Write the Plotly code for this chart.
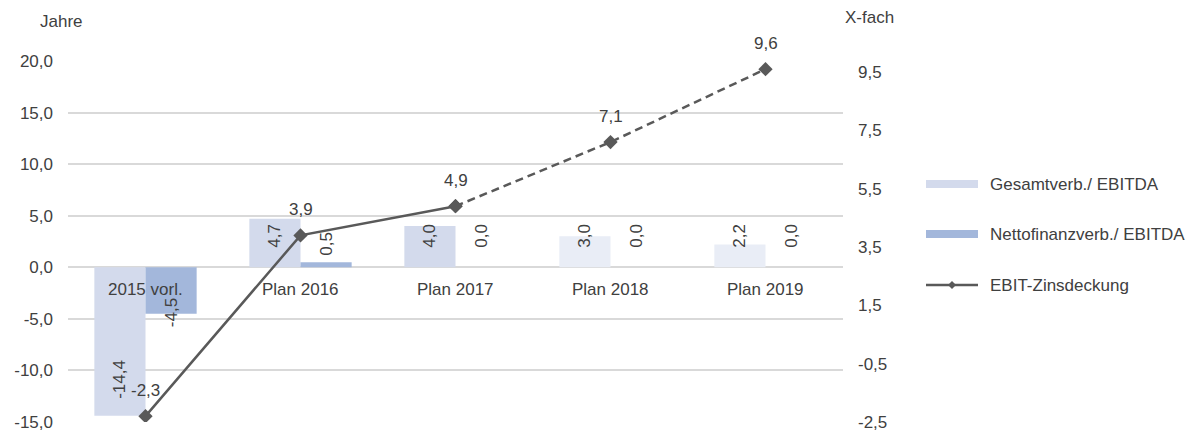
import plotly.graph_objects as go

categories = ["2015 vorl.", "Plan 2016", "Plan 2017", "Plan 2018", "Plan 2019"]
gesamt = [-14.4, 4.7, 4.0, 3.0, 2.2]
netto = [-4.5, 0.5, 0.0, 0.0, 0.0]
ebit = [-2.3, 3.9, 4.9, 7.1, 9.6]
left_ticks = [-15, -10, -5, 0, 5, 10, 15, 20]
right_ticks = [-2.5, -0.5, 1.5, 3.5, 5.5, 7.5, 9.5]

FONT = "Liberation Sans, Arial, sans-serif"
TXT = "#404040"
C_GES = ["#D3DAEC", "#D3DAEC", "#D3DAEC", "#E9EDF6", "#E9EDF6"]
C_NET = "#A3B7DB"
C_LINE = "#595959"

def de(v):
    return f"{v:.1f}".replace(".", ",")

fig = go.Figure()
fig.add_trace(go.Bar(x=categories, y=gesamt, marker=dict(color=C_GES, line=dict(width=0)),
                     name="Gesamtverb./ EBITDA", showlegend=False))
fig.add_trace(go.Bar(x=categories, y=netto, marker=dict(color=C_NET, line=dict(width=0)),
                     name="Nettofinanzverb./ EBITDA", showlegend=False))
fig.add_trace(go.Scatter(x=categories[:3], y=ebit[:3], yaxis="y2", mode="lines+markers",
                         line=dict(color=C_LINE, width=2.5),
                         marker=dict(symbol="diamond", size=11, color=C_LINE),
                         showlegend=False))
fig.add_trace(go.Scatter(x=categories[2:], y=ebit[2:], yaxis="y2", mode="lines+markers",
                         line=dict(color=C_LINE, width=2.5, dash="8px,5px"),
                         marker=dict(symbol="diamond", size=11, color=C_LINE),
                         showlegend=False))

ann = []
# bar value labels
for i, (c, v) in enumerate(zip(categories, gesamt)):
    if v >= 0:
        ann.append(dict(x=c, y=0, xshift=-26, yshift=17, yanchor="bottom", text=de(v)))
    else:
        ann.append(dict(x=c, y=v, xshift=-26, yshift=15, yanchor="bottom", text=de(v)))
for i, (c, v) in enumerate(zip(categories, netto)):
    if v > 0:
        ann.append(dict(x=c, y=v, xshift=26, yshift=4, yanchor="bottom", text=de(v)))
    elif v == 0:
        ann.append(dict(x=c, y=0, xshift=26, yshift=17, yanchor="bottom", text=de(v)))
    else:
        ann.append(dict(x=c, y=v, xshift=26, yshift=1, yanchor="middle", text=de(v)))
for a in ann:
    a.update(textangle=-90, showarrow=False, font=dict(family=FONT, size=17, color=TXT))
# line labels
for c, v in zip(categories, ebit):
    ann.append(dict(x=c, y=v, yref="y2", yshift=14, yanchor="bottom", text=de(v),
                    showarrow=False, font=dict(family=FONT, size=17, color=TXT)))
# category labels at zero line
for c in categories:
    ann.append(dict(x=c, y=0, yshift=-11, yanchor="top", text=c, showarrow=False,
                    font=dict(family=FONT, size=17, color=TXT)))

# pixel helpers for the plot area (68..843 x 61..422)
def px_x(p):
    return (p - 68) / (843 - 68)
def px_y(p):
    return (422 - p) / (422 - 61)

# axis titles
ann.append(dict(xref="paper", yref="paper", x=px_x(38), y=px_y(22), xanchor="left", yanchor="middle",
                text="Jahre", showarrow=False, font=dict(family=FONT, size=17, color=TXT)))
ann.append(dict(xref="paper", yref="paper", x=px_x(843), y=px_y(17), xanchor="left", yanchor="middle",
                text="X-fach", showarrow=False, font=dict(family=FONT, size=17, color=TXT)))

# manual legend
legend_items = ["Gesamtverb./ EBITDA", "Nettofinanzverb./ EBITDA", "EBIT-Zinsdeckung"]
shapes = []
lx0, lx1, tx = 926, 978, 988
ly = [184, 234, 285]
shapes.append(dict(type="rect", xref="paper", yref="paper", x0=px_x(lx0), x1=px_x(lx1),
                   y0=px_y(ly[0] + 4), y1=px_y(ly[0] - 4), fillcolor=C_GES[0], line=dict(width=0)))
shapes.append(dict(type="rect", xref="paper", yref="paper", x0=px_x(lx0), x1=px_x(lx1),
                   y0=px_y(ly[1] + 4), y1=px_y(ly[1] - 4), fillcolor=C_NET, line=dict(width=0)))
shapes.append(dict(type="line", xref="paper", yref="paper", x0=px_x(lx0), x1=px_x(lx1),
                   y0=px_y(ly[2]), y1=px_y(ly[2]), line=dict(color=C_LINE, width=2.5)))
shapes.append(dict(type="path", xref="paper", yref="paper",
                   path="M {a},{b} L {c},{d} L {e},{b} L {c},{f} Z".format(
                       a=px_x(948), b=px_y(ly[2]), c=px_x(952), d=px_y(ly[2] - 4),
                       e=px_x(956), f=px_y(ly[2] + 4)),
                   fillcolor=C_LINE, line=dict(width=0)))
for t, y in zip(legend_items, ly):
    ann.append(dict(xref="paper", yref="paper", x=px_x(tx), y=px_y(y), xanchor="left",
                    yanchor="middle", text=t, showarrow=False,
                    font=dict(family=FONT, size=17, color=TXT)))

fig.update_layout(
    width=1188, height=432,
    margin=dict(l=68, r=345, t=61, b=10, autoexpand=False),
    paper_bgcolor="white", plot_bgcolor="white",
    barmode="group", bargap=0.34, bargroupgap=0,
    showlegend=False,
    font=dict(family=FONT, size=17, color=TXT),
    xaxis=dict(showticklabels=False, showgrid=False, zeroline=False, showline=False,
               automargin=False, categoryorder="array", categoryarray=categories),
    yaxis=dict(range=[-15, 20], tickvals=left_ticks, ticktext=[de(v) for v in left_ticks],
               showgrid=True, gridcolor="#D9D9D9", gridwidth=2, zeroline=False,
               showline=False, ticks="", ticklabelstandoff=14, automargin=False,
               tickfont=dict(family=FONT, size=17, color=TXT)),
    yaxis2=dict(range=[-2.5, 9.88], tickvals=right_ticks, ticktext=[de(v) for v in right_ticks],
                overlaying="y", side="right", showgrid=False, zeroline=False,
                showline=False, ticks="", ticklabelstandoff=14, automargin=False,
                tickfont=dict(family=FONT, size=17, color=TXT)),
    annotations=ann,
    shapes=shapes,
)

fig.write_html("out.html")
